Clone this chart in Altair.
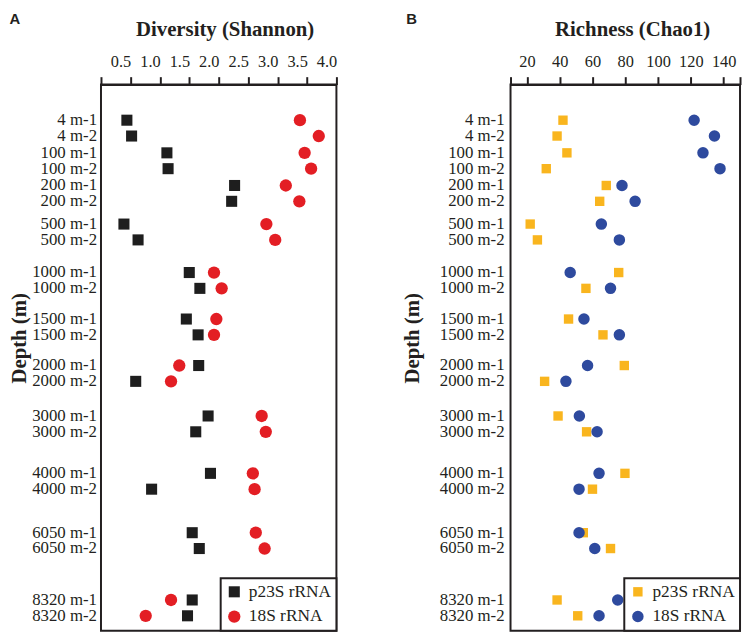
import altair as alt
import pandas as pd

# ---------------- data ----------------
row_labels = ["4 m-1", "4 m-2", "100 m-1", "100 m-2", "200 m-1", "200 m-2",
              "500 m-1", "500 m-2", "1000 m-1", "1000 m-2", "1500 m-1", "1500 m-2",
              "2000 m-1", "2000 m-2", "3000 m-1", "3000 m-2", "4000 m-1", "4000 m-2",
              "6050 m-1", "6050 m-2", "8320 m-1", "8320 m-2"]
series = ["p23S rRNA", "18S rRNA"]

shannon_p23s = [0.44, 0.52, 1.12, 1.14, 2.27, 2.22, 0.39, 0.63, 1.50, 1.68, 1.45,
                1.65, 1.66, 0.59, 1.82, 1.61, 1.86, 0.86, 1.55, 1.67, 1.55, 1.47]
shannon_18s = [3.38, 3.70, 3.46, 3.57, 3.14, 3.37, 2.81, 2.96, 1.92, 2.05, 1.96,
               1.92, 1.33, 1.19, 2.73, 2.80, 2.58, 2.61, 2.63, 2.78, 1.19, 0.76]
chao1_p23s = [42.0, 38.4, 44.4, 31.8, 68.4, 64.4, 22.0, 26.4, 76.0, 56.0, 45.4,
              66.4, 79.4, 30.8, 39.0, 56.4, 79.8, 60.0, 54.4, 71.0, 38.4, 51.0]
chao1_18s = [122.0, 134.4, 127.4, 137.8, 78.0, 86.0, 65.4, 76.4, 46.4, 71.0, 54.8,
             76.4, 57.0, 43.8, 52.0, 62.8, 64.0, 51.8, 51.8, 61.4, 75.4, 64.0]

shannon_ticks = [0, 0.5, 1.0, 1.5, 2.0, 2.5, 3.0, 3.5, 4.0]
chao1_ticks = [10, 20, 40, 60, 80, 100, 120, 140, 150]

# ---------------- layout of the depth rows (uneven spacing) ----------------
H = 552
first_row = 36
pair_step = 16
group_gaps = [33, 33, 39, 49, 47, 47, 51, 58, 60, 68]
starts = [first_row]
for g in group_gaps:
    starts.append(starts[-1] + g)
row_pos = [s + k * pair_step for s in starts for k in (0, 1)]

ink = "#231f20"
serif = "Liberation Serif"

rows_df = pd.DataFrame({"label": row_labels, "pos": row_pos})


def make_df(v1, v2):
    return pd.DataFrame({
        "pos": row_pos + row_pos,
        "value": v1 + v2,
        "series": [series[0]] * len(v1) + [series[1]] * len(v2),
    })


def panel(df, xtitle, domain, ticks, label_expr, label_offset, colors, sizes,
          letter, width, title_x, ytitle_x, letter_x, label_x):
    yaxis = alt.Axis(title="Depth (m)", labels=False, ticks=False, domain=False,
                     grid=False, titleX=ytitle_x, titleY=256, titleAngle=270,
                     titleBaseline="middle", titleAlign="center")
    yscale = alt.Scale(domain=[0, H], reverse=True, nice=False, zero=False)
    leg = alt.Legend(title=None, orient="bottom-right", offset=0,
                     labelFont=serif, labelFontSize=17.5, labelColor=ink,
                     padding=5, rowPadding=6, strokeColor=ink, fillColor="white",
                     symbolSize=110, labelOffset=6)
    points = alt.Chart(df).mark_point(filled=True, opacity=1, strokeWidth=0).encode(
        x=alt.X("value:Q",
                scale=alt.Scale(domain=domain, nice=False, zero=False),
                axis=alt.Axis(orient="top", title=xtitle, values=ticks,
                              labelExpr=label_expr, labelOffset=label_offset,
                              labelFlush=False, labelOverlap=False, grid=False,
                              titleX=title_x, titleY=-56, titleBaseline="middle",
                              titleAlign="center")),
        y=alt.Y("pos:Q", scale=yscale, axis=yaxis),
        color=alt.Color("series:N", scale=alt.Scale(domain=series, range=colors), legend=leg),
        shape=alt.Shape("series:N", scale=alt.Scale(domain=series, range=["square", "circle"]), legend=leg),
        size=alt.Size("series:N", scale=alt.Scale(domain=series, range=sizes), legend=None),
    )
    labels = alt.Chart(rows_df).mark_text(
        align="right", baseline="middle", font=serif, fontSize=17, color=ink
    ).encode(
        x=alt.value(label_x),
        y=alt.Y("pos:Q", scale=yscale, axis=yaxis),
        text="label:N",
    )
    letter_mark = alt.Chart(pd.DataFrame({"t": [letter]})).mark_text(
        font="Liberation Sans", fontWeight="bold", fontSize=15, align="center",
        baseline="middle", color=ink
    ).encode(x=alt.value(letter_x), y=alt.value(-66), text="t:N")
    return alt.layer(points, labels, letter_mark).properties(width=width, height=H)


panel_a = panel(
    make_df(shannon_p23s, shannon_18s), "Diversity (Shannon)", [0, 4.0], shannon_ticks,
    "datum.value == 0 ? '' : format(datum.value, '.1f')", -10,
    ["#1e1e1e", "#e31e24"], [125, 155], "A", 238, 125, -82, -87, -4)

panel_b = panel(
    make_df(chao1_p23s, chao1_18s), "Richness (Chao1)", [10, 150], chao1_ticks,
    "(datum.value < 15 || datum.value > 145) ? '' : format(datum.value, 'd')", 0,
    ["#f9b51e", "#2e4a9e"], [90, 135], "B", 232, 123, -99, -100, -6)

chart = alt.hconcat(panel_a, panel_b, spacing=176, bounds="flush").resolve_scale(
    x="independent", y="independent", color="independent", shape="independent",
    size="independent"
).properties(padding=0).configure_view(
    stroke=ink, strokeWidth=2
).configure_axis(
    domainColor=ink, domainWidth=2, tickColor=ink, tickWidth=2, tickSize=8,
    labelFont=serif, labelFontSize=16.5, labelColor=ink, labelPadding=7,
    titleFont=serif, titleFontSize=21, titleFontWeight="bold", titleColor=ink
).configure_legend(
    labelFont=serif, labelFontSize=17.5, labelColor=ink, padding=5, rowPadding=6,
    strokeColor=ink, strokeWidth=2, fillColor="white", symbolSize=110, labelOffset=6
)

chart.save("out.html", embed_options={"renderer": "svg", "actions": False})
